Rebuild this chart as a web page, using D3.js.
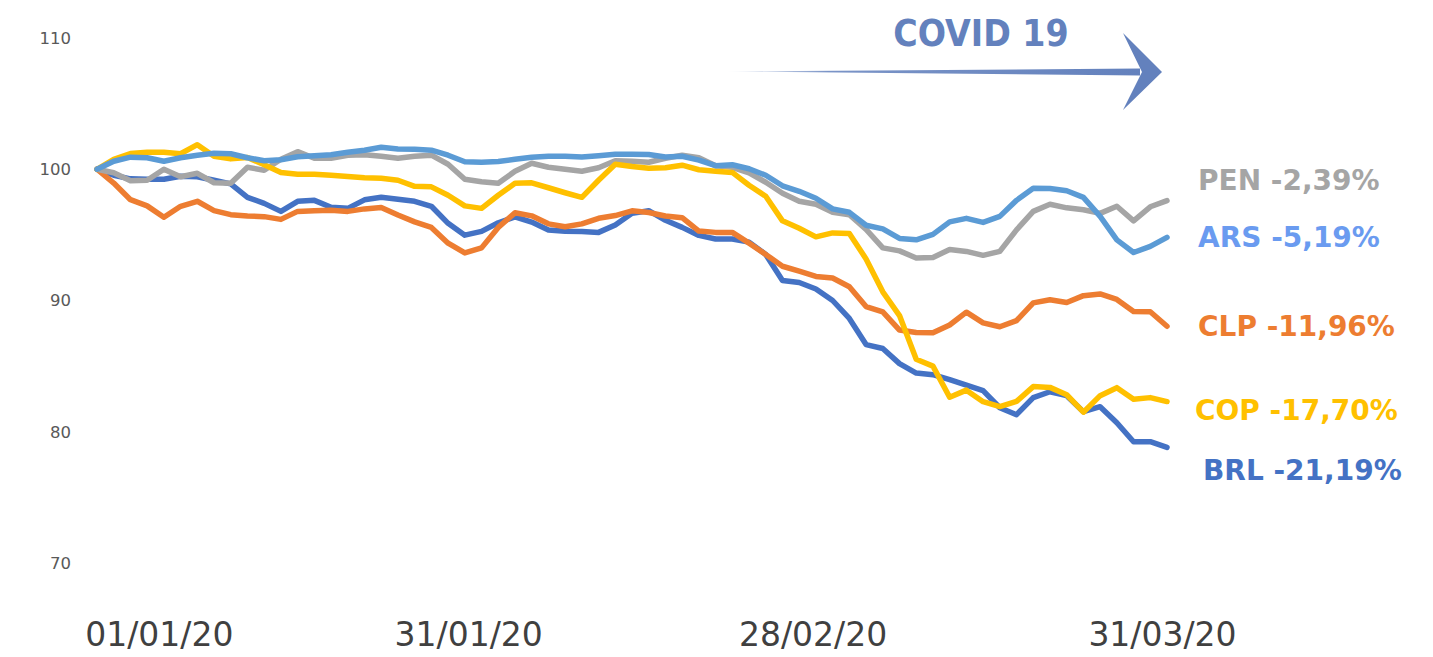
<!DOCTYPE html>
<html>
<head>
<meta charset="utf-8">
<script src="https://cdn.jsdelivr.net/npm/d3@7"></script>
<style>
  html, body { margin: 0; padding: 0; background: #fff; }
  svg { display: block; }
</style>
</head>
<body>
<div id="chart"></div>
<script>
// Currency indices (base 100 = 01/01/20), one value per trading day
const CLP = [100, 98.95, 97.68, 97.21, 96.34, 97.18, 97.56, 96.85, 96.54, 96.44, 96.39, 96.18, 96.79, 96.83, 96.87, 96.79,
  96.98, 97.08, 96.51, 95.99, 95.57, 94.37, 93.62, 94.01, 95.57, 96.68, 96.45, 95.84, 95.62, 95.84, 96.26, 96.47,
  96.83, 96.70, 96.44, 96.31, 95.29, 95.19, 95.19, 94.37, 93.51, 92.61, 92.23, 91.83, 91.71, 91.05, 89.54, 89.13,
  87.75, 87.56, 87.54, 88.13, 89.11, 88.30, 88.00, 88.47, 89.82, 90.06, 89.85, 90.37, 90.50, 90.08, 89.16, 89.14, 88.04];

const BRL = [100, 99.54, 99.27, 99.24, 99.24, 99.47, 99.43, 99.16, 98.89, 97.86, 97.40, 96.79, 97.56, 97.63, 97.10, 97.02,
  97.67, 97.86, 97.71, 97.56, 97.18, 95.88, 94.98, 95.27, 95.92, 96.37, 95.98, 95.38, 95.27, 95.25, 95.19, 95.76,
  96.64, 96.84, 96.11, 95.57, 94.96, 94.69, 94.69, 94.45, 93.51, 91.53, 91.37, 90.88, 90.00, 88.63, 86.64, 86.34,
  85.19, 84.47, 84.35, 83.97, 83.55, 83.13, 81.83, 81.30, 82.60, 83.05, 82.75, 81.53, 81.91, 80.69, 79.24, 79.24, 78.81];

const COP = [100, 100.76, 101.20, 101.30, 101.30, 101.18, 101.87, 100.99, 100.79, 100.90, 100.34, 99.75, 99.62, 99.62, 99.54, 99.45,
  99.35, 99.31, 99.16, 98.70, 98.66, 98.02, 97.21, 97.02, 98.02, 98.93, 98.97, 98.59, 98.21, 97.86, 99.16, 100.38,
  100.21, 100.08, 100.11, 100.31, 99.96, 99.85, 99.76, 98.78, 97.94, 96.07, 95.50, 94.85, 95.15, 95.11, 93.17, 90.66,
  88.85, 85.53, 85.00, 82.63, 83.17, 82.29, 81.92, 82.31, 83.44, 83.38, 82.82, 81.49, 82.75, 83.36, 82.47, 82.60, 82.30];

const PEN = [100, 99.73, 99.12, 99.16, 100.00, 99.43, 99.69, 98.97, 98.93, 100.15, 99.92, 100.76, 101.34, 100.84, 100.84, 101.07,
  101.11, 100.99, 100.84, 100.99, 101.07, 100.38, 99.24, 99.05, 98.93, 99.85, 100.46, 100.15, 100.00, 99.85, 100.11, 100.65,
  100.61, 100.53, 100.84, 101.07, 100.88, 100.27, 100.15, 99.73, 99.01, 98.17, 97.56, 97.33, 96.72, 96.53, 95.42, 94.01,
  93.78, 93.24, 93.28, 93.89, 93.74, 93.44, 93.74, 95.38, 96.79, 97.33, 97.06, 96.91, 96.64, 97.18, 96.07, 97.14, 97.61];

const ARS = [100, 100.61, 100.92, 100.88, 100.61, 100.88, 101.07, 101.22, 101.18, 100.88, 100.65, 100.73, 100.95, 101.03, 101.11, 101.30,
  101.45, 101.68, 101.55, 101.53, 101.45, 101.07, 100.57, 100.53, 100.59, 100.76, 100.92, 100.99, 100.99, 100.93, 101.03, 101.15,
  101.15, 101.12, 100.93, 100.99, 100.69, 100.27, 100.34, 100.04, 99.54, 98.74, 98.32, 97.79, 96.98, 96.72, 95.73, 95.46,
  94.73, 94.62, 95.04, 95.99, 96.26, 95.95, 96.41, 97.63, 98.55, 98.53, 98.36, 97.86, 96.41, 94.62, 93.66, 94.12, 94.81];

const seriesNames = ["BRL", "CLP", "PEN", "COP", "ARS"];
const seriesValues = [BRL, CLP, PEN, COP, ARS];
const seriesChange = ["-21,19%", "-11,96%", "-2,39%", "-17,70%", "-5,19%"];

// x tick labels and the trading-day index where each one sits
const xTickLabels = ["01/01/20", "31/01/20", "28/02/20", "31/03/20"];
const xTickAt = [3.7, 22.2, 42.8, 63.7];
const yTicks = [70, 80, 90, 100, 110];

const lineColor = { BRL: "#4472C4", CLP: "#ED7D31", PEN: "#A5A5A5", COP: "#FFC000", ARS: "#5B9BD5" };
const labelColor = { BRL: "#4472C4", CLP: "#ED7D31", PEN: "#A5A5A5", COP: "#FFC000", ARS: "#6A9BF0" };
// label placement: [x, vertical shift from the line end in px]
const labelPos = { PEN: [1198, -21], ARS: [1198, 0], CLP: [1198, 0], COP: [1195, 8], BRL: [1203, 23] };

const W = 1433, H = 657;

const svg = d3.select("#chart").append("svg")
    .attr("width", W)
    .attr("height", H);

const x = d3.scaleLinear().domain([0, BRL.length - 1]).range([97, 1167]);
const y = d3.scaleLinear().domain([70, 110]).range([563, 38]);

// y axis (labels only)
const yAxis = svg.append("g")
    .attr("transform", "translate(71,0)")
    .call(d3.axisLeft(y).tickValues(yTicks).tickSize(0).tickPadding(0).tickFormat(d3.format("d")));
yAxis.select(".domain").remove();
yAxis.selectAll("text")
    .attr("font-family", "DejaVu Sans, sans-serif")
    .attr("font-size", 16.5)
    .attr("fill", "#595959");

// x axis (labels only)
const xAxis = svg.append("g")
    .attr("transform", "translate(0,600)")
    .call(d3.axisBottom(x).tickValues(xTickAt).tickSize(0).tickPadding(23)
        .tickFormat((d, i) => xTickLabels[i]));
xAxis.select(".domain").remove();
xAxis.selectAll("text")
    .attr("font-family", "DejaVu Sans, sans-serif")
    .attr("font-size", 33)
    .attr("fill", "#404040");

// lines
const line = d3.line()
    .x((d, i) => x(i))
    .y(d => y(d));

svg.append("g")
    .selectAll("path")
    .data(seriesNames)
    .join("path")
    .attr("d", (name, i) => line(seriesValues[i]))
    .attr("fill", "none")
    .attr("stroke", name => lineColor[name])
    .attr("stroke-width", 5.5)
    .attr("stroke-linejoin", "round")
    .attr("stroke-linecap", "round");

// end labels
svg.append("g")
    .selectAll("text")
    .data(seriesNames)
    .join("text")
    .attr("x", name => labelPos[name][0])
    .attr("y", (name, i) => y(seriesValues[i][seriesValues[i].length - 1]) + labelPos[name][1])
    .attr("dy", "0.36em")
    .attr("font-family", "DejaVu Sans, sans-serif")
    .attr("font-weight", "bold")
    .attr("font-size", 28)
    .attr("fill", name => labelColor[name])
    .text((name, i) => `${name} ${seriesChange[i]}`);

// COVID 19 arrow
const defs = svg.append("defs");
const grad = defs.append("linearGradient")
    .attr("id", "shaft")
    .attr("x1", "0%").attr("x2", "100%");
grad.append("stop").attr("offset", "0%").attr("stop-color", "#6381BD").attr("stop-opacity", 0);
grad.append("stop").attr("offset", "25%").attr("stop-color", "#6381BD").attr("stop-opacity", 0.85);
grad.append("stop").attr("offset", "100%").attr("stop-color", "#6381BD").attr("stop-opacity", 1);

svg.append("path")
    .attr("d", "M724,71.5 L1140,68.5 L1140,75.5 Z")
    .attr("fill", "url(#shaft)");

svg.append("path")
    .attr("d", "M1123,33 L1162,72 L1123,110 L1142,72 Z")
    .attr("fill", "#6381BD");

svg.append("text")
    .attr("x", 981)
    .attr("y", 46)
    .attr("text-anchor", "middle")
    .attr("font-family", "'DejaVu Sans Condensed', 'DejaVu Sans', sans-serif")
    .attr("font-weight", "bold")
    .attr("font-size", 37)
    .attr("fill", "#6381BD")
    .text("COVID 19");
</script>
</body>
</html>
